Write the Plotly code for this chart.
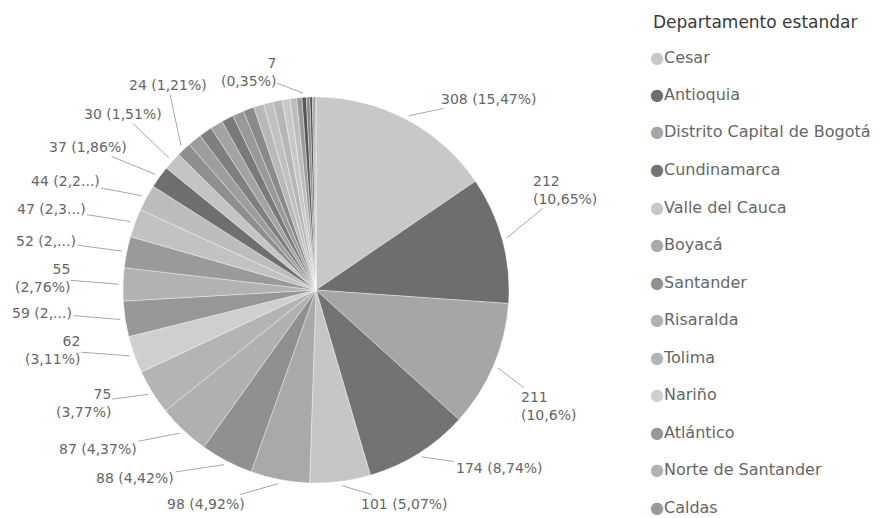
import math
import plotly.graph_objects as go

# departments, sorted the way the chart shows them (largest first, clockwise from 12 o'clock)
departamentos = [
    "Cesar", "Antioquia", "Distrito Capital de Bogotá", "Cundinamarca", "Valle del Cauca",
    "Boyacá", "Santander", "Risaralda", "Tolima", "Nariño", "Atlántico",
    "Norte de Santander", "Caldas", "Huila", "Meta", "Bolívar", "Quindío", "Magdalena",
    "Cauca", "Córdoba", "Sucre", "Casanare", "La Guajira", "Caquetá", "Putumayo",
    "Chocó", "Arauca", "Guaviare", "San Andrés", "Amazonas", "Vichada", "Guainía",
    "Vaupés", "Exterior", "Sin información", "No reporta",
]
cantidades = [
    308, 212, 211, 174, 101, 98, 88, 87, 75, 62, 59, 55, 52, 47, 44, 37, 30, 24,
    23, 22, 21, 20, 19, 18, 17, 16, 15, 13, 11, 9, 7, 6, 4, 3, 2, 1,
]
legend_items = 13

# grey tones (the reference is a greyscale scan)
colores = [
    "#c8c8c8", "#6e6e6e", "#a6a6a6", "#737373", "#c6c6c6", "#a9a9a9", "#909090",
    "#b0b0b0", "#b4b4b4", "#cfcfcf", "#979797", "#b2b2b2", "#9a9a9a", "#c2c2c2",
    "#bcbcbc", "#6f6f6f", "#c4c4c4", "#8f8f8f", "#9d9d9d", "#7f7f7f", "#a3a3a3",
    "#7a7a7a", "#999999", "#8a8a8a", "#b8b8b8", "#c0c0c0", "#b6b6b6", "#c8c8c8",
    "#bdbdbd", "#9b9b9b", "#555555", "#8c8c8c", "#4d4d4d", "#a0a0a0", "#5a5a5a",
    "#999999",
]

# label layout per labelled slice: (center x px, center y px, style, align)
label_layout = {
    0: (488, 99, "one", "left"),
    1: (565, 190, "two", "left"),
    2: (548, 406, "two", "left"),
    3: (499, 468, "one", "left"),
    4: (404, 504, "one", "left"),
    5: (206, 504, "one", "right"),
    6: (135, 478, "one", "right"),
    7: (98, 449, "one", "right"),
    8: (83, 403, "two", "right"),
    9: (52, 350, "two", "right"),
    10: (42, 313, ("trunc", 2), "right"),
    11: (42, 278, "two", "right"),
    12: (46, 241, ("trunc", 2), "right"),
    13: (51, 209, ("trunc", 3), "right"),
    14: (65, 181, ("trunc", 3), "right"),
    15: (88, 147, "one", "right"),
    16: (123, 114, "one", "right"),
    17: (168, 85, "one", "right"),
    30: (248, 72, "two", "right"),
}

W, H = 894, 518
CX, CY, R = 316, 290, 193
FONT = "DejaVu Sans"

total = sum(cantidades)


def pct_text(v):
    s = f"{v / total * 100:.2f}".rstrip("0").rstrip(".")
    return s.replace(".", ",")


fig = go.Figure(go.Pie(
    labels=departamentos, values=cantidades, sort=False, direction="clockwise",
    marker=dict(colors=colores, line=dict(color="rgba(255,255,255,0.6)", width=0.6)),
    textinfo="none", hoverinfo="label+value+percent", showlegend=False,
    domain=dict(x=[(CX - R) / W, (CX + R) / W], y=[1 - (CY + R) / H, 1 - (CY - R) / H]),
))

annotations = []
cum = 0
for i, v in enumerate(cantidades):
    mid = (cum + v / 2) / total * 2 * math.pi
    cum += v
    if i not in label_layout:
        continue
    lx, ly, style, align = label_layout[i]
    p = pct_text(v)
    if style == "one":
        txt = f"{v} ({p}%)"
    elif style == "two":
        txt = f"{v}<br>({p}%)"
    else:
        txt = f"{v} ({p[:style[1]]}...)"
    hx = CX + R * 1.02 * math.sin(mid)
    hy = CY - R * 1.02 * math.cos(mid)
    annotations.append(dict(
        x=hx / W, y=1 - hy / H, xref="paper", yref="paper",
        ax=lx - hx, ay=ly - hy, text=txt, align=align,
        showarrow=True, arrowhead=0, arrowwidth=1, arrowcolor="#a8a8a8",
        standoff=1, font=dict(family=FONT, size=14, color="#666666"),
    ))

# legend drawn like the Power BI one (title + dot + name, fixed row spacing)
annotations.append(dict(
    x=651 / W, y=1 - 22 / H, xref="paper", yref="paper", xanchor="left", yanchor="middle",
    text="Departamento estandar", showarrow=False,
    font=dict(family=FONT, size=17, color="#3a3a3a"),
))
for k in range(legend_items):
    yk = 57 + k * 37.5
    annotations.append(dict(
        x=648 / W, y=1 - yk / H, xref="paper", yref="paper", xanchor="left", yanchor="middle",
        text=f"<span style='color:{colores[k]}'>●</span>{departamentos[k]}",
        showarrow=False, font=dict(family=FONT, size=16, color="#666666"),
    ))

fig.update_layout(
    width=W, height=H, margin=dict(l=0, r=0, t=0, b=0),
    paper_bgcolor="white", plot_bgcolor="white",
    annotations=annotations,
)

fig.write_html(
    "out.html",
    config={"displayModeBar": False},
    post_script="document.body.style.margin='0px';",
)
